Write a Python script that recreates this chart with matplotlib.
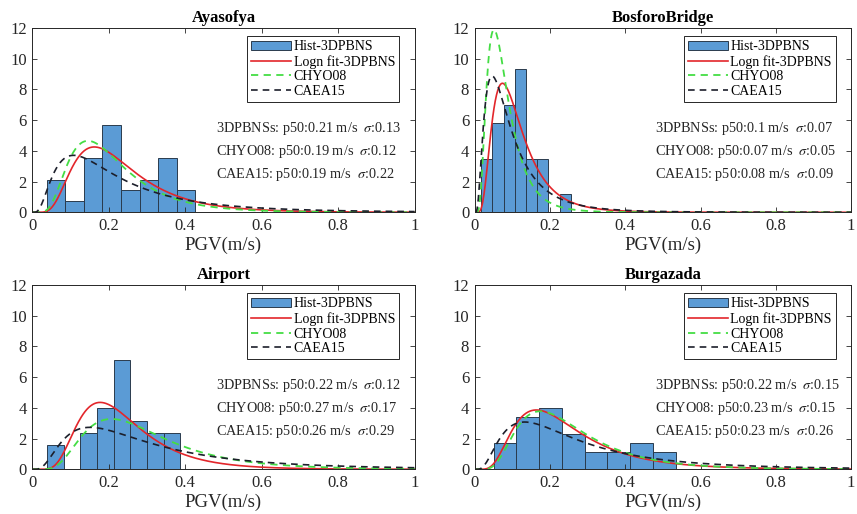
import numpy as np
import matplotlib
matplotlib.use('Agg')
import matplotlib.pyplot as plt

plt.rcParams['font.family'] = ['Liberation Serif', 'DejaVu Serif']
plt.rcParams['mathtext.fontset'] = 'stix'

sites = ['Ayasofya', 'BosforoBridge', 'Airport', 'Burgazada']

# histogram: first edge, bin width, counts per bin (29 records each)
hist_start = [0.0375, 0.0174, 0.039, 0.050]
hist_width = [0.0486, 0.0297, 0.0435, 0.0605]
hist_counts = [
    [3, 1, 5, 8, 2, 3, 5, 2],
    [3, 5, 6, 8, 3, 3, 0, 1],
    [2, 0, 3, 5, 9, 4, 3, 3],
    [3, 6, 7, 4, 2, 2, 3, 2],
]

# lognormal parameters printed on each panel (median, std in m/s)
p50_fit = [0.21, 0.10, 0.22, 0.22]
sig_fit = [0.13, 0.07, 0.12, 0.15]
p50_chyo = [0.19, 0.07, 0.27, 0.23]
sig_chyo = [0.12, 0.05, 0.17, 0.15]
p50_caea = [0.19, 0.08, 0.26, 0.23]
sig_caea = [0.22, 0.09, 0.29, 0.26]


def logn_pdf(x, med, sd):
    r = sd / med
    v = np.log((1 + np.sqrt(1 + 4 * r**2)) / 2)
    s = np.sqrt(v)
    return np.exp(-(np.log(x) - np.log(med))**2 / (2 * v)) / (x * s * np.sqrt(2 * np.pi))


txt_col = '#262626'
positions = [
    [0.0377, 0.587, 0.446, 0.359],
    [0.554, 0.587, 0.439, 0.359],
    [0.0377, 0.087, 0.446, 0.3586],
    [0.554, 0.087, 0.439, 0.3586],
]

fig = plt.figure(figsize=(8.57, 5.14), dpi=100)
x = np.linspace(0.001, 1, 600)

for i, name in enumerate(sites):
    ax = fig.add_axes(positions[i])
    counts = np.array(hist_counts[i])
    w = hist_width[i]
    edges = hist_start[i] + w * np.arange(len(counts))
    dens = counts / (counts.sum() * w)
    bars = ax.bar(edges, dens, width=w, align='edge', color='#5b9bd5',
                  edgecolor='#2a3b4d', linewidth=0.7)
    l1, = ax.plot(x, logn_pdf(x, p50_fit[i], sig_fit[i]), color='#e3262b', lw=1.2)
    l2, = ax.plot(x, logn_pdf(x, p50_chyo[i], sig_chyo[i]), color='#44dd44', lw=1.3,
                  dashes=(4, 3))
    l3, = ax.plot(x, logn_pdf(x, p50_caea[i], sig_caea[i]), color='#1c1f2b', lw=1.2,
                  dashes=(4, 3))

    ax.set_xlim(0, 1)
    ax.set_ylim(0, 12)
    ax.set_xticks(np.arange(0, 1.01, 0.2))
    ax.set_xticklabels(['0', '0.2', '0.4', '0.6', '0.8', '1'])
    ax.set_yticks(np.arange(0, 13, 2))
    ax.tick_params(direction='in', top=True, right=True, length=3.5, width=0.6,
                   labelsize=12, colors=txt_col, pad=4)
    for sp in ax.spines.values():
        sp.set_color(txt_col)
        sp.set_linewidth(0.7)
    ax.set_title(name, fontsize=12, fontweight='bold', pad=4, color='black')
    ax.set_xlabel('PGV(m/s)', fontsize=13.5, color=txt_col, labelpad=2)

    leg = ax.legend([bars, l1, l2, l3],
                    ['Hist-3DPBNS', 'Logn fit-3DPBNS', 'CHYO08', 'CAEA15'],
                    loc='upper right', bbox_to_anchor=(0.96, 0.955), fontsize=10,
                    fancybox=False, framealpha=1, edgecolor=txt_col,
                    handlelength=2.9, handletextpad=0.15, labelspacing=0.12,
                    borderpad=0.3, borderaxespad=0)
    leg.get_frame().set_linewidth(0.7)

    lines = [
        f'3DPBNSs: p50:{p50_fit[i]:g} m/s  $\\sigma$:{sig_fit[i]:g}',
        f'CHYO08: p50:{p50_chyo[i]:g} m/s  $\\sigma$:{sig_chyo[i]:g}',
        f'CAEA15: p50:{p50_caea[i]:g} m/s  $\\sigma$:{sig_caea[i]:g}',
    ]
    for y, t in zip([5.45, 3.95, 2.45], lines):
        ax.text(0.48, y, t, fontsize=10.3, va='center', ha='left', color=txt_col)

fig.savefig('out.png', dpi=100)
